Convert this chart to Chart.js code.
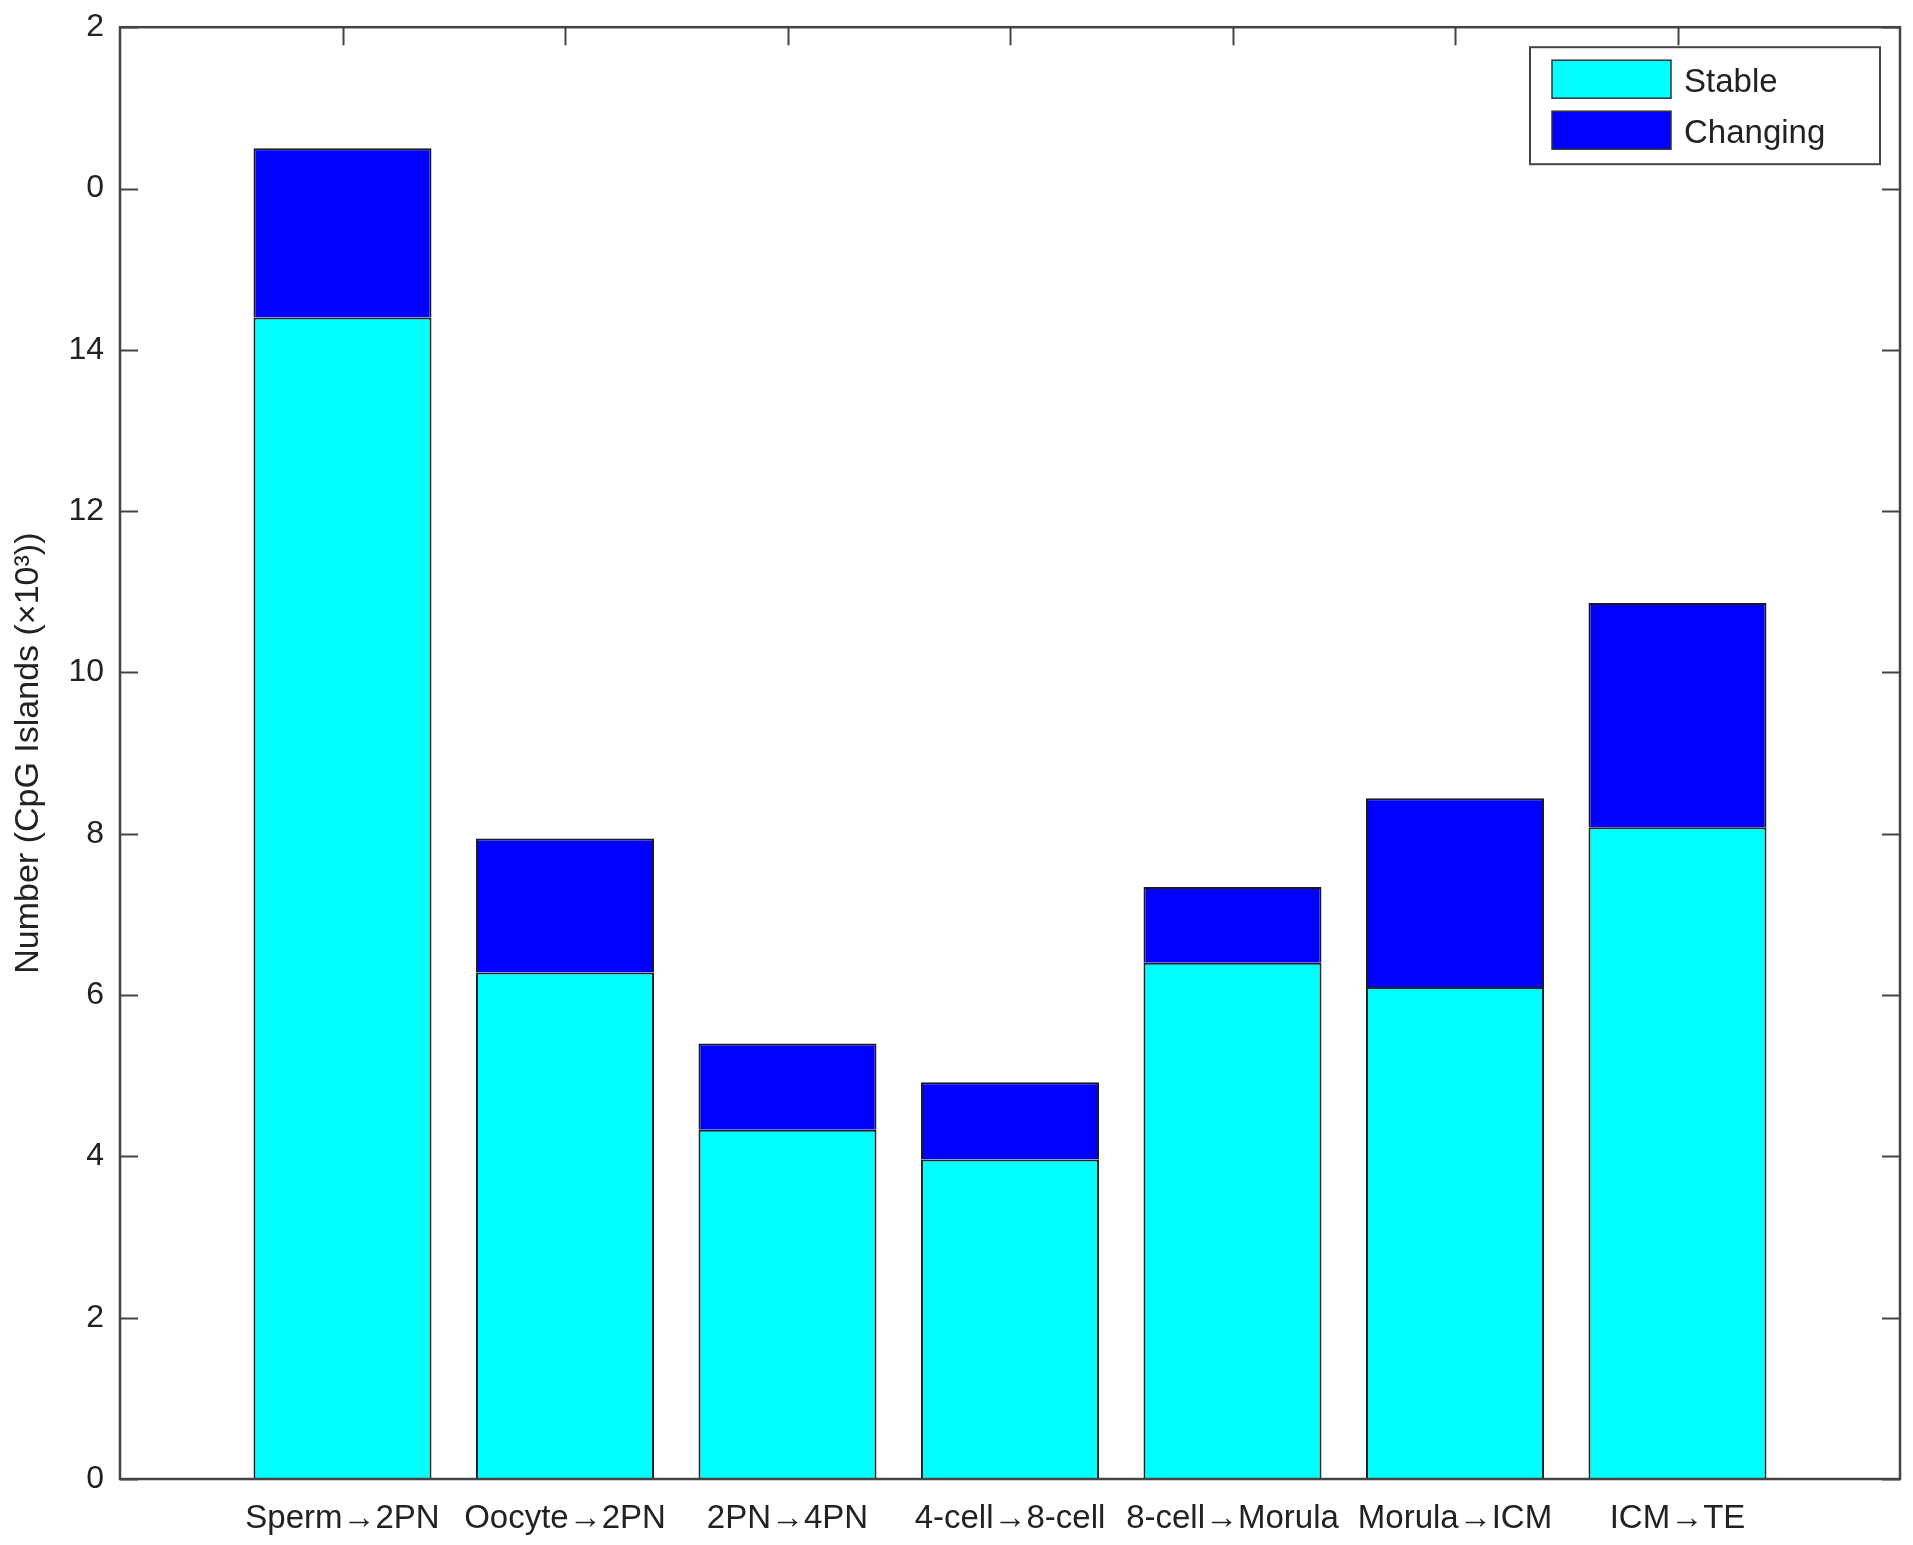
<!DOCTYPE html>
<html>
<head>
<meta charset="utf-8">
<script src="https://cdn.jsdelivr.net/npm/chart.js@4"></script>
<style>
  html, body { margin: 0; padding: 0; background: #fff; }
  #wrap { width: 1913px; height: 1545px; }
</style>
</head>
<body>
<div id="wrap"><canvas id="cpg" width="1913" height="1545"></canvas></div>
<script>
// categories along x (positions 1..7, axis runs 0..8)
var categories = ["Sperm\u21922PN", "Oocyte\u21922PN", "2PN\u21924PN", "4-cell\u21928-cell",
                  "8-cell\u2192Morula", "Morula\u2192ICM", "ICM\u2192TE"];
var stable   = [14.40, 6.28, 4.33, 3.96, 6.40, 6.10, 8.08];
var changing = [2.10, 1.66, 1.07, 0.96, 0.94, 2.34, 2.78];
// y tick labels as printed (top two are clipped in the original)
var yTicks      = [0, 2, 4, 6, 8, 10, 12, 14, 16, 18];
var yTickLabels = ["0", "2", "4", "6", "8", "10", "12", "14", "0", "2"];

var FONT = "'Liberation Sans', Arial, Helvetica, sans-serif";
var TXT = '#222';

function pts(vals) {
    return vals.map(function (v, i) { return { x: i + 1, y: v }; });
}

// inward tick marks on all four sides (MATLAB style)
var tickMarks = {
    id: 'tickMarks',
    beforeDatasetsDraw: function (chart) {
        var c = chart.ctx, a = chart.chartArea;
        var xs = chart.scales.x, ys = chart.scales.y;
        var len = 18;
        c.save();
        c.strokeStyle = '#444';
        c.lineWidth = 2;
        c.beginPath();
        yTicks.forEach(function (t) {
            var y = Math.round(ys.getPixelForValue(t)) + 0.5;
            c.moveTo(a.left, y); c.lineTo(a.left + len, y);
            c.moveTo(a.right, y); c.lineTo(a.right - len, y);
        });
        categories.forEach(function (_, i) {
            var x = Math.round(xs.getPixelForValue(i + 1)) + 0.5;
            c.moveTo(x, a.top); c.lineTo(x, a.top + len);
            c.moveTo(x, a.bottom); c.lineTo(x, a.bottom - len);
        });
        c.stroke();
        c.restore();
    },
    afterDraw: function (chart) {
        var c = chart.ctx, a = chart.chartArea;
        c.save();
        c.strokeStyle = '#444';
        c.lineWidth = 2.5;
        c.strokeRect(a.left, a.top, a.right - a.left, a.bottom - a.top);

        // legend box
        var bx = a.right - 370, by = a.top + 20, bw = 350, bh = 117;
        c.fillStyle = '#fff';
        c.fillRect(bx, by, bw, bh);
        c.lineWidth = 2;
        c.strokeRect(bx, by, bw, bh);
        var ds = chart.data.datasets;
        c.font = '33px ' + FONT;
        c.textBaseline = 'middle';
        ds.forEach(function (d, i) {
            var py = by + 13 + i * 51;
            c.fillStyle = d.backgroundColor;
            c.fillRect(bx + 22, py, 119, 38);
            c.strokeStyle = '#333';
            c.lineWidth = 1.5;
            c.strokeRect(bx + 22, py, 119, 38);
            c.fillStyle = TXT;
            c.fillText(d.label, bx + 154, py + 23);
        });
        c.restore();
    }
};

var ctx = document.getElementById('cpg').getContext('2d');
var chart = new Chart(ctx, {
    type: 'bar',
    data: {
        datasets: [{
            label: 'Stable',
            data: pts(stable),
            backgroundColor: '#00FFFF',
            borderColor: '#1a2424',
            borderWidth: 2,
            barPercentage: 0.8,
            categoryPercentage: 1.0
        }, {
            label: 'Changing',
            data: pts(changing),
            backgroundColor: '#0000FF',
            borderColor: '#1a1a24',
            borderWidth: 2,
            barPercentage: 0.8,
            categoryPercentage: 1.0
        }]
    },
    options: {
        responsive: false,
        animation: false,
        layout: { padding: { top: 19, right: 13, left: 0, bottom: 0 } },
        plugins: { legend: { display: false }, tooltip: { enabled: false } },
        scales: {
            x: {
                type: 'linear',
                stacked: true,
                offset: false,
                min: 0, max: 8,
                grid: { display: false, offset: false },
                border: { display: false },
                afterFit: function (s) { s.height = 66; },
                afterBuildTicks: function (s) {
                    s.ticks = categories.map(function (_, i) { return { value: i + 1 }; });
                },
                ticks: {
                    autoSkip: false,
                    maxRotation: 0,
                    padding: 12,
                    color: TXT,
                    font: { family: FONT, size: 33 },
                    callback: function (v) { return categories[v - 1] || ''; }
                }
            },
            y: {
                stacked: true,
                min: 0, max: 18,
                grid: { display: false },
                border: { display: false },
                afterFit: function (s) { s.width = 120; },
                afterBuildTicks: function (s) {
                    s.ticks = yTicks.map(function (t) { return { value: t }; });
                },
                ticks: {
                    padding: 8,
                    color: TXT,
                    font: { family: FONT, size: 32 },
                    callback: function (v) {
                        var k = yTicks.indexOf(v);
                        return k >= 0 ? yTickLabels[k] : '';
                    }
                },
                title: {
                    display: true,
                    text: 'Number (CpG Islands (\u00d710\u00b3))',
                    color: TXT,
                    font: { family: FONT, size: 34 },
                    padding: { top: 8, bottom: 0 }
                }
            }
        }
    },
    plugins: [tickMarks]
});
</script>
</body>
</html>
